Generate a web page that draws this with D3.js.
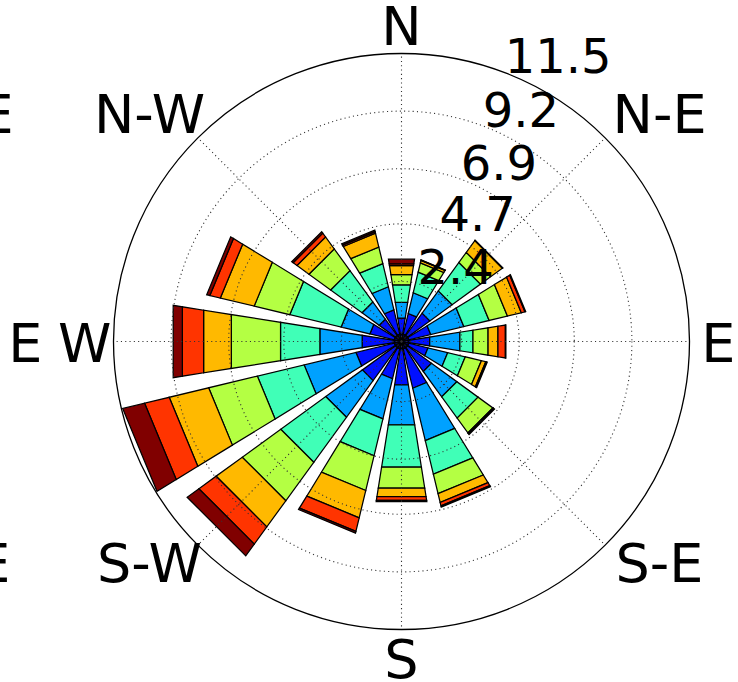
<!DOCTYPE html>
<html><head><meta charset="utf-8">
<script src="https://cdn.jsdelivr.net/npm/d3@7"></script>
<style>html,body{margin:0;padding:0;background:#fff;overflow:hidden}</style>
</head><body><svg id="chart" width="738" height="682"></svg>
<script>
// ---- data ----
const directions = ["N","NNE","NE","ENE","E","ESE","SE","SSE","S","SSW","SW","WSW","W","WNW","NW","NNW"];
const speedBins = ["bin1","bin2","bin3","bin4","bin5","bin6","bin7","bin8"];
const bin1 = [0.30,0.30,0.30,0.30,0.30,0.30,0.30,0.30,0.30,0.30,0.30,0.30,0.30,0.30,0.30,0.30];
const bin2 = [0.65,0.85,1.10,0.90,0.84,0.79,1.18,1.62,1.45,1.23,1.63,1.57,1.29,1.00,0.80,1.00];
const bin3 = [0.63,0.85,1.10,1.36,1.22,0.81,1.25,2.15,1.62,1.65,1.81,2.13,1.71,1.18,0.85,0.95];
const bin4 = [0.71,0.85,1.40,1.04,0.53,0.72,1.05,1.38,1.71,1.51,2.22,1.92,1.59,2.11,1.55,0.95];
const bin5 = [0.41,0.38,0.50,0.75,0.61,0.66,0.73,0.80,0.85,1.43,1.90,2.00,1.99,1.46,1.07,0.68];
const bin6 = [0.37,0.10,0.58,0.57,0.40,0.18,0.02,0.36,0.34,1.12,1.29,1.62,1.12,1.39,0.59,0.57];
const bin7 = [0.07,0.01,0.01,0.15,0.30,0.03,0.02,0.14,0.15,0.56,0.85,1.01,0.86,0.43,0.19,0.06];
const bin8 = [0.19,0.01,0.01,0.03,0.02,0.03,0.04,0.05,0.05,0.07,0.58,0.90,0.37,0.13,0.07,0.06];
const series = [bin1,bin2,bin3,bin4,bin5,bin6,bin7,bin8];
const radialTicks = [2.4, 4.7, 6.9, 9.2, 11.5];
const radialTickLabels = ["2.4","4.7","6.9","9.2","11.5"];
const compassLabels = ["N","N-E","E","S-E","S","S-W","W","N-W"];
const compassAngles = [0,45,90,135,180,225,270,315];
const neighbourLabels = ["N-E","E","S-E"];
const neighbourAngles = [45,90,135];

// ---- jet colormap (matplotlib segment data) ----
function jet(x){
  const seg = (pts)=>{ for(let i=1;i<pts.length;i++){ if(x<=pts[i][0]){const [x0,y0]=pts[i-1],[x1,y1]=pts[i]; return y0+(y1-y0)*(x-x0)/(x1-x0);} } return pts[pts.length-1][1]; };
  const r = seg([[0,0],[0.35,0],[0.66,1],[0.89,1],[1,0.5]]);
  const g = seg([[0,0],[0.125,0],[0.375,1],[0.64,1],[0.91,0],[1,0]]);
  const b = seg([[0,0.5],[0.11,1],[0.34,1],[0.65,0],[1,0]]);
  return d3.rgb(r*255,g*255,b*255).toString();
}
const colors = d3.scaleOrdinal().domain(speedBins).range(speedBins.map((_,i)=>jet(Math.floor(i/(speedBins.length-1)*255)/255)));

// ---- layout ----
const cx = 401.5, cy = 341.5, R = 288;
const svg = d3.select("#chart");
svg.append("rect").attr("width",738).attr("height",682).attr("fill","#fff");
const rScale = d3.scaleLinear().domain([0, d3.max(radialTicks)]).range([0, R]);
const aScale = d3.scaleBand().domain(directions)
  .range([-Math.PI/16, 2*Math.PI - Math.PI/16]).paddingInner(0.2).paddingOuter(0.1);
const pt = (a, r) => [cx + r*Math.sin(a), cy - r*Math.cos(a)];

const table = directions.map((d,i)=>{const o={dir:d}; speedBins.forEach((b,j)=>o[b]=series[j][i]); return o;});
const stacked = d3.stack().keys(speedBins)(table);

const line = d3.line();
const gBars = svg.append("g");
stacked.forEach(layer=>{
  gBars.selectAll(null).data(layer).enter().append("path")
    .attr("d", d=>{
      const a0 = aScale(d.data.dir), a1 = a0 + aScale.bandwidth();
      const r0 = rScale(d[0]), r1 = rScale(d[1]);
      return line([pt(a0,r0),pt(a1,r0),pt(a1,r1),pt(a0,r1)]) + "Z";
    })
    .attr("fill", colors(layer.key))
    .attr("stroke","#000").attr("stroke-width",1.25).attr("stroke-linejoin","miter");
});

// ---- grid ----
const gGrid = svg.append("g").attr("fill","none");
gGrid.selectAll("circle.grid").data(radialTicks.slice(0,-1)).enter().append("circle")
  .attr("cx",cx).attr("cy",cy).attr("r",d=>rScale(d))
  .attr("stroke","#333").attr("stroke-width",1.1).attr("stroke-dasharray","1.1,3.2");
gGrid.selectAll("line.spoke").data(compassAngles).enter().append("line")
  .attr("x1",cx).attr("y1",cy)
  .attr("x2",d=>pt(d*Math.PI/180,R)[0]).attr("y2",d=>pt(d*Math.PI/180,R)[1])
  .attr("stroke","#333").attr("stroke-width",1.1).attr("stroke-dasharray","1.1,3.2");
gGrid.append("circle").attr("cx",cx).attr("cy",cy).attr("r",rScale(d3.max(radialTicks)))
  .attr("stroke","#000").attr("stroke-width",1.3);

// ---- radial labels ----
const labAngle = 22.5*Math.PI/180;
svg.append("g").selectAll("text").data(radialTicks).enter().append("text")
  .attr("x",d=>pt(labAngle,rScale(d))[0]-7)
  .attr("y",d=>pt(labAngle,rScale(d))[1]-2)
  .attr("text-anchor","start")
  .attr("font-family","DejaVu Sans").attr("font-size",48).attr("fill","#000")
  .text((d,i)=>radialTickLabels[i]);

// ---- compass labels ----
function labelPos(deg, shift){
  const a = deg*Math.PI/180, diag = deg%90!==0, s = Math.sign(Math.sin(a));
  const x = cx + shift + 316.8*Math.sin(a) + (diag ? (s>0 ? 34 : -28) : 0);
  const yc = cy - 316.8*Math.cos(a) + (diag ? -4 : 0);
  return [x, yc + 20];
}
const gLab = svg.append("g").attr("font-family","DejaVu Sans").attr("font-size",54).attr("fill","#000").attr("text-anchor","middle");
gLab.selectAll("text.c").data(compassLabels).enter().append("text")
  .attr("x",(d,i)=>labelPos(compassAngles[i],0)[0])
  .attr("y",(d,i)=>labelPos(compassAngles[i],0)[1])
  .text(d=>d);
gLab.selectAll("text.n").data(neighbourLabels).enter().append("text")
  .attr("x",(d,i)=>labelPos(neighbourAngles[i],-693)[0])
  .attr("y",(d,i)=>labelPos(neighbourAngles[i],-693)[1])
  .text(d=>d);
</script></body></html>
